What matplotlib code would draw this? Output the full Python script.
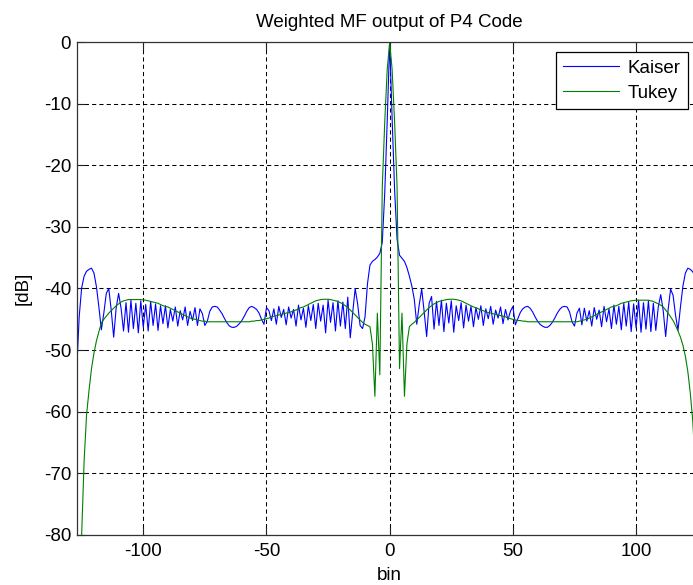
import matplotlib
matplotlib.use("Agg")
import matplotlib.pyplot as plt
import numpy as np

plt.rcParams['font.family'] = ['Liberation Sans', 'DejaVu Sans']
plt.rcParams['axes.unicode_minus'] = False

# MF output in dB, one value per bin (-127 .. 127)
kaiser_left = [  # bins -127 .. -1
    -53.2, -44.6, -39.9, -38.0, -37.2, -36.9, -36.7, -37.5, -39.7, -43.0,
    -46.7, -44.0, -40.8, -40.0, -43.5, -47.9, -43.2, -40.8, -43.2, -46.9,
    -42.3, -47.1, -41.9, -46.5, -42.4, -47.2, -42.0, -46.3, -42.6, -46.9,
    -42.1, -46.0, -42.5, -46.8, -42.8, -45.7, -42.8, -46.4, -43.4, -45.3,
    -43.0, -46.1, -43.6, -45.1, -43.0, -46.0, -43.7, -45.2, -43.1, -46.0,
    -43.3, -44.1, -46.0, -45.3, -43.7, -43.0, -42.9, -43.0, -43.5, -44.1,
    -44.9, -45.6, -46.1, -46.3, -46.3, -46.1, -45.7, -45.2, -44.5, -43.7,
    -43.1, -42.9, -43.1, -43.4, -44.0, -45.0, -45.8, -43.1, -43.6, -45.2,
    -43.3, -45.8, -42.9, -44.7, -43.4, -45.9, -43.0, -44.8, -43.4, -46.1,
    -42.7, -45.1, -43.2, -46.3, -42.8, -45.2, -42.6, -46.5, -42.4, -45.3,
    -42.7, -47.2, -41.9, -45.5, -42.3, -46.9, -42.0, -46.1, -42.2, -46.5,
    -41.4, -48.0, -43.9, -40.0, -42.5, -46.0, -46.5, -44.6, -39.2, -36.2,
    -35.6, -35.3, -34.9, -34.3, -32.5, -24.5, -12.8,
]
kaiser_right = [  # bins 0 .. 127
    0.0, -12.5, -24.0, -32.0, -34.6, -35.1, -35.6, -36.6, -38.0, -39.6,
    -41.8, -45.8, -42.6, -40.1, -43.8, -47.8, -42.4, -41.3, -46.6, -42.1,
    -46.0, -41.9, -47.0, -42.4, -45.6, -42.0, -47.1, -42.8, -45.2, -42.3,
    -46.4, -42.7, -45.3, -42.9, -46.2, -43.1, -45.0, -42.8, -46.0, -43.3,
    -44.9, -42.9, -45.8, -43.5, -44.8, -43.0, -45.7, -43.4, -45.1, -43.7,
    -42.9, -45.9, -44.9, -43.9, -43.3, -43.0, -42.9, -43.2, -43.8, -44.6,
    -45.3, -45.8, -46.1, -46.3, -46.3, -46.0, -45.5, -44.8, -44.0, -43.4,
    -43.0, -42.9, -43.0, -43.8, -45.4, -46.1, -44.0, -43.2, -45.9, -43.2,
    -45.3, -43.6, -46.1, -43.1, -45.0, -43.5, -46.2, -42.9, -45.4, -43.3,
    -46.5, -42.7, -45.8, -42.9, -46.7, -42.4, -46.1, -42.2, -47.0, -42.5,
    -46.4, -41.9, -47.1, -42.3, -46.6, -42.0, -47.0, -42.4, -46.8, -43.0,
    -41.0, -43.6, -47.8, -43.4, -40.1, -41.1, -44.3, -46.8, -43.0, -39.6,
    -37.5, -36.7, -36.9, -37.3, -38.1, -39.8, -44.5, -53.0,
]
tukey_left = [  # bins -127 .. -1
    -115.0, -95.0, -80.0, -68.0, -60.5, -56.5, -53.0, -50.5, -48.5, -47.0,
    -45.6, -45.0, -44.5, -44.0, -43.6, -43.2, -42.8, -42.5, -42.2, -42.0,
    -41.9, -41.8, -41.8, -41.8, -41.8, -41.8, -41.8, -41.85, -41.9, -42.0,
    -42.1, -42.2, -42.3, -42.4, -42.6, -42.8, -42.9, -43.0, -43.2, -43.4,
    -43.6, -43.8, -44.0, -44.2, -44.4, -44.6, -44.8, -44.9, -45.0, -45.1,
    -45.2, -45.3, -45.3, -45.4, -45.4, -45.4, -45.4, -45.4, -45.4, -45.4,
    -45.4, -45.4, -45.4, -45.4, -45.4, -45.4, -45.4, -45.4, -45.4, -45.4,
    -45.4, -45.3, -45.3, -45.2, -45.2, -45.1, -45.0, -44.9, -44.8, -44.6,
    -44.5, -44.4, -44.3, -44.2, -44.1, -44.0, -43.9, -43.8, -43.6, -43.5,
    -43.3, -43.1, -43.0, -42.8, -42.6, -42.4, -42.2, -42.0, -41.9, -41.8,
    -41.75, -41.75, -41.75, -41.8, -41.9, -42.0, -42.1, -42.3, -42.5, -42.8,
    -43.1, -43.5, -43.9, -44.3, -44.7, -45.1, -45.5, -45.8, -46.0, -46.2,
    -49.0, -57.5, -44.0, -54.0, -23.5, -13.0, -4.5,
]
tukey_right = [  # bins 0 .. 127
    0.0, -4.5, -13.0, -23.5, -53.0, -44.0, -57.5, -49.0, -46.2, -45.8,
    -45.5, -45.1, -44.7, -44.3, -43.9, -43.5, -43.1, -42.8, -42.5, -42.3,
    -42.1, -42.0, -41.9, -41.8, -41.75, -41.75, -41.75, -41.8, -41.9, -42.0,
    -42.2, -42.4, -42.6, -42.8, -43.0, -43.1, -43.3, -43.5, -43.6, -43.8,
    -43.9, -44.0, -44.1, -44.2, -44.3, -44.4, -44.5, -44.6, -44.8, -44.9,
    -45.0, -45.1, -45.2, -45.2, -45.3, -45.3, -45.4, -45.4, -45.4, -45.4,
    -45.4, -45.4, -45.4, -45.4, -45.4, -45.4, -45.4, -45.4, -45.4, -45.4,
    -45.4, -45.4, -45.4, -45.4, -45.4, -45.4, -45.4, -45.3, -45.2, -45.1,
    -45.0, -44.8, -44.6, -44.4, -44.2, -44.0, -43.8, -43.6, -43.4, -43.2,
    -43.0, -42.9, -42.8, -42.6, -42.4, -42.3, -42.2, -42.1, -42.0, -41.95,
    -41.9, -41.9, -41.9, -41.9, -41.9, -41.9, -42.0, -42.1, -42.3, -42.5,
    -42.7, -43.0, -43.5, -44.0, -44.6, -45.2, -46.0, -46.9, -47.9, -49.2,
    -51.0, -53.5, -57.0, -61.5, -69.0, -80.0, -95.0, -115.0,
]
kaiser = kaiser_left + kaiser_right
tukey = tukey_left + tukey_right
bins = np.arange(-127, 128)

xticks = [-100, -50, 0, 50, 100]
yticks = [0, -10, -20, -30, -40, -50, -60, -70, -80]

fig = plt.figure(figsize=(6.93, 5.85), dpi=100)
# axes runs past the right edge of the picture, as in the reference
ax = fig.add_axes([0.1107, 0.0855, 0.9032, 0.8427])
ax.plot(bins, kaiser, color='#0000ff', lw=0.8, label='Kaiser')
ax.plot(bins, tukey, color='#008000', lw=0.8, label='Tukey')

ax.set_xlim(-127, 127)
ax.set_ylim(-80, 0)
ax.set_xticks(xticks)
ax.set_yticks(yticks)
ax.grid(True, color='k', lw=0.75, linestyle=(0, (4, 3)))
ax.tick_params(direction='in', top=True, right=True, length=6, width=0.8,
               labelsize=13.5, colors='#222222', labelcolor='k')
ax.tick_params(axis='x', pad=6)
ax.tick_params(axis='y', pad=4)
for s in ax.spines.values():
    s.set_color('#333333')
    s.set_linewidth(0.9)

ax.set_title('Weighted MF output of P4 Code', fontsize=13.5, pad=11)
ax.set_xlabel('bin', fontsize=13.5, labelpad=5)
ax.set_ylabel('[dB]', fontsize=13.5, labelpad=9)

leg = ax.legend(loc='upper right', bbox_to_anchor=(688.3 / 693, 1 - 52.3 / 585),
                bbox_transform=fig.transFigure, borderaxespad=0, fontsize=13.5,
                fancybox=False, shadow=False, framealpha=1, edgecolor='k',
                handlelength=3.0, handletextpad=0.45, labelspacing=0.4,
                borderpad=0.4)
leg.get_frame().set_linewidth(0.9)

fig.savefig('out.png', dpi=100)
